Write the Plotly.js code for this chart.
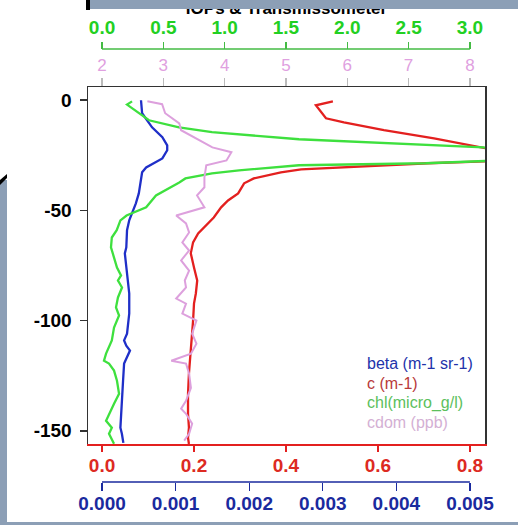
<!DOCTYPE html>
<html><head><meta charset="utf-8">
<script src="https://cdn.plot.ly/plotly-3.0.1.min.js"></script>
<style>
html,body{margin:0;padding:0;background:#fff;}
#wrap{position:relative;width:518px;height:525px;overflow:hidden;}
#chart{position:absolute;left:0;top:0;width:518px;height:525px;}
#deco{position:absolute;left:0;top:0;pointer-events:none;}
</style></head><body>
<div id="wrap"><div id="chart"></div>
<svg id="deco" width="518" height="525">
<rect x="90" y="0" width="428" height="9" fill="#8c9fb6"/>
<rect x="86" y="0" width="4" height="10" fill="#000"/>
<rect x="0" y="180" width="7" height="345" fill="#8c9fb6"/>
<polygon points="0,180 7,174 7,178 0,185" fill="#000"/>
<rect x="0" y="522" width="518" height="3" fill="#8c9fb6"/>
</svg></div>
<script>
// beta (m-1 sr-1) vs depth
const betaDepth = [0,-5.9,-12.3,-16.8,-20.5,-22.7,-26.4,-30.5,-32.7,-36.4,-42.3,-46.8,-51.4,-54.5,-59,-66.8,-69.5,-75.9,-81.8,-87.7,-96.8,-105.9,-109,-111.4,-113.6,-116.8,-119.5,-127.3,-135,-142.3,-148.6,-151.4,-155.5];
const betaVal = [0.00053,0.000545,0.00068,0.00082,0.000886,0.000886,0.00082,0.0006,0.000545,0.00053,0.0005,0.00046,0.00041,0.00037,0.00034,0.00033,0.00031,0.00033,0.00035,0.00037,0.00037,0.00034,0.0003,0.00033,0.00038,0.00034,0.0003,0.000286,0.00027,0.00026,0.00025,0.00027,0.00029];
// c (m-1)
const cDepth = [-0.5,-2.3,-8.2,-10,-13.6,-17.3,-21.8,-24,-26.5,-27.7,-28.6,-30,-31.4,-32.7,-35.5,-37.7,-42.3,-45.5,-48.6,-53.2,-57.7,-60.5,-64.5,-69.5,-75.9,-81.8,-87.7,-92.3,-100,-112.3,-124,-133.2,-142.3,-148.6,-153.2,-156];
const cVal = [0.502,0.465,0.487,0.526,0.613,0.722,0.835,0.9,0.9,0.835,0.709,0.578,0.433,0.389,0.33,0.309,0.296,0.274,0.259,0.243,0.222,0.209,0.198,0.193,0.2,0.207,0.204,0.2,0.198,0.193,0.189,0.187,0.187,0.189,0.187,0.189];
// chl (micro_g/l)
const chlDepth = [-0.5,-2,-9.1,-12.3,-14.5,-16.8,-17.7,-21.4,-23,-27,-28.6,-29.5,-31.8,-33.2,-35.5,-37.3,-40.9,-43.2,-48.6,-50.9,-52.3,-54.5,-59,-62.3,-66.8,-71.4,-75.9,-79.5,-81.8,-85,-89.5,-94,-97.7,-103.2,-109,-115,-118.2,-119.5,-122.7,-127.3,-133.2,-137.7,-142.3,-145.5,-148.6,-151.4,-155.9];
const chlVal = [0.245,0.204,0.383,0.628,0.897,1.443,1.606,3.11,3.4,3.4,2.64,1.606,1.117,0.897,0.68,0.63,0.52,0.44,0.36,0.26,0.2,0.15,0.12,0.08,0.073,0.098,0.122,0.155,0.13,0.163,0.13,0.114,0.139,0.098,0.08,0.033,0.016,0.057,0.098,0.122,0.139,0.098,0.057,0.033,0.08,0.057,0.098];
// cdom (ppb)
const cdomDepth = [-0.5,-1.8,-5.9,-10.5,-13.6,-17.3,-21.4,-23.6,-27.3,-29.5,-35,-39.5,-43.2,-48.6,-52.3,-55.9,-60,-64.5,-68.2,-72.7,-77.3,-81.8,-85,-90,-92.3,-96.8,-100,-105.9,-110.5,-115,-118.2,-119.5,-124.1,-130.5,-136.4,-140,-142.3,-146.8,-151.4,-154.5];
const cdomVal = [2.74,2.98,3.03,3.26,3.29,3.54,3.80,4.11,4.03,3.70,3.67,3.67,3.55,3.67,3.21,3.37,3.42,3.31,3.42,3.29,3.42,3.35,3.37,3.21,3.37,3.31,3.54,3.47,3.54,3.45,3.13,3.37,3.42,3.45,3.37,3.29,3.37,3.47,3.42,3.34];

const yTicks = [0,-50,-100,-150];
const yTickText = ['0','-50','-100','-150'];
const cTicks = [0,0.2,0.4,0.6,0.8];
const cTickText = ['0.0','0.2','0.4','0.6','0.8'];
const betaTicks = [0,0.001,0.002,0.003,0.004,0.005];
const betaTickText = ['0.000','0.001','0.002','0.003','0.004','0.005'];
const chlTicks = [0,0.5,1,1.5,2,2.5,3];
const chlTickText = ['0.0','0.5','1.0','1.5','2.0','2.5','3.0'];
const cdomTicks = [2,3,4,5,6,7,8];
const cdomTickText = ['2','3','4','5','6','7','8'];
const legendLabels = ['beta (m-1 sr-1)','c (m-1)','chl(micro_g/l)','cdom (ppb)'];

const BLUE='#1f2fc8', RED='#e3201f', GREEN='#3ee03e', PINK='#dda0dd';
const BLUE_T='#1a2a9e', RED_T='#dd2a22', GREEN_T='#22d022', PINK_T='#e0a0e0';

const traces = [
  {x:cdomVal, y:cdomDepth, xaxis:'x4', yaxis:'y', mode:'lines', line:{color:PINK,width:2}},
  {x:chlVal, y:chlDepth, xaxis:'x3', yaxis:'y', mode:'lines', line:{color:GREEN,width:2.3}},
  {x:cVal, y:cDepth, xaxis:'x', yaxis:'y', mode:'lines', line:{color:RED,width:2.3}},
  {x:betaVal, y:betaDepth, xaxis:'x2', yaxis:'y', mode:'lines', line:{color:BLUE,width:2.3}}
];

const baseX = {showgrid:false, zeroline:false, ticks:'outside', tickwidth:1.3, fixedrange:true};
const legendColors = ['#2233aa','#b83a3a','#5cc05c','#d4b0d4'];
const legendY = [0.2748,0.2286,0.1824,0.1363];

const layout = {
  width:518, height:525,
  margin:{l:88, r:33, t:49, b:43, pad:0},
  paper_bgcolor:'#fff', plot_bgcolor:'#fff',
  showlegend:false,
  font:{family:'Liberation Sans, Arial, sans-serif', size:19, color:'#000'},
  title:{text:'IOPs & Transmissometer', font:{size:17, weight:'bold', color:'#000'}, x:0.5, xref:'paper', xanchor:'center', y:0.985, yref:'container', yanchor:'middle'},
  yaxis:{domain:[0.0878,0.9122], range:[-156,6], tickvals:yTicks, ticktext:yTickText, ticks:'outside', ticklen:7, tickwidth:1.5, tickcolor:'#333', showline:true, linecolor:'#333', linewidth:1.5, mirror:true, showgrid:false, zeroline:false, tickfont:{size:19,color:'#000',weight:'bold'}, ticklabelstandoff:4},
  xaxis:Object.assign({}, baseX, {anchor:'y', side:'bottom', range:[-0.0305,0.8328], tickvals:cTicks, ticktext:cTickText, ticklen:6, tickcolor:RED, showline:true, linecolor:RED, linewidth:2.5, ticklabelstandoff:-3, tickfont:{size:19,color:RED_T,weight:'bold'}}),
  xaxis2:Object.assign({}, baseX, {overlaying:'x', anchor:'free', position:0, side:'bottom', range:[-0.0001905,0.005205], tickvals:betaTicks, ticktext:betaTickText, ticklen:8, tickcolor:BLUE_T, showline:false, ticklabelstandoff:-4, tickfont:{size:19,color:BLUE_T,weight:'bold'}}),
  xaxis3:Object.assign({}, baseX, {overlaying:'x', anchor:'free', position:1, side:'top', range:[-0.1143,3.123], tickvals:chlTicks, ticktext:chlTickText, ticklen:7, tickcolor:'#44bb44', showline:false, tickfont:{size:19,color:GREEN_T,weight:'bold'}}),
  xaxis4:Object.assign({}, baseX, {overlaying:'x', anchor:'y', side:'top', range:[1.7714,8.246], tickvals:cdomTicks, ticktext:cdomTickText, ticklen:8, tickcolor:'#bbb', showline:true, linecolor:'#333', linewidth:1.5, tickfont:{size:17,color:PINK_T}}),
  shapes:[
    {type:'line', xref:'x2', yref:'paper', x0:betaTicks[0], x1:betaTicks[betaTicks.length-1], y0:0, y1:0, line:{color:BLUE_T,width:1.3}},
    {type:'line', xref:'x3', yref:'paper', x0:chlTicks[0], x1:chlTicks[chlTicks.length-1], y0:1, y1:1, line:{color:'#44bb44',width:1.3}}
  ],
  annotations: legendLabels.map((t,i)=>({text:t, xref:'paper', yref:'paper', x:0.698, y:legendY[i], xanchor:'left', yanchor:'middle', showarrow:false, font:{size:16,color:legendColors[i]}}))
};

Plotly.newPlot('chart', traces, layout, {displayModeBar:false, staticPlot:true});
</script>
</body></html>
